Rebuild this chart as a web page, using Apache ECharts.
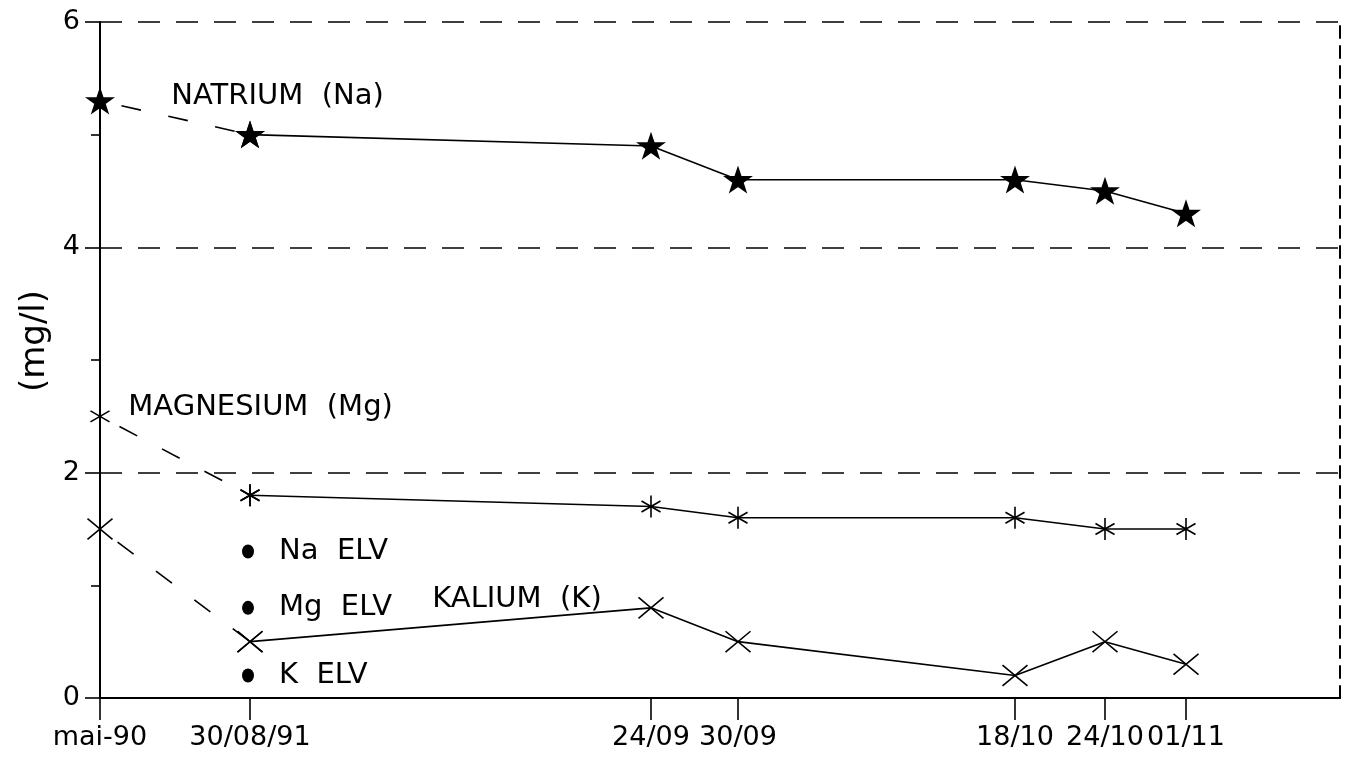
<!DOCTYPE html>
<html>
<head>
<meta charset="utf-8">
<script src="https://cdn.jsdelivr.net/npm/echarts@6/dist/echarts.min.js"></script>
<style>
html, body { margin: 0; padding: 0; background: #fff; }
#main { width: 1352px; height: 762px; }
</style>
</head>
<body>
<div id="main"></div>
<script>
//*************** data ***************
// sampling dates and their place on the (broken) horizontal scale of the original
var dates = ['mai-90', '30/08/91', '24/09', '30/09', '18/10', '24/10', '01/11'];
var datePos = [0, 150, 551, 638, 915, 1005, 1086];

var natrium = [5.3, 5.0, 4.9, 4.6, 4.6, 4.5, 4.3];
var magnesium = [2.5, 1.8, 1.7, 1.6, 1.6, 1.5, 1.5];
var kalium = [1.5, 0.5, 0.8, 0.5, 0.2, 0.5, 0.3];

var elvNames = ['Na  ELV', 'Mg  ELV', 'K  ELV'];
var elvValues = [1.3, 0.8, 0.2];

//*************** symbols ***************
var STAR = 'path://M12,0 L14.8,8.4 L24,8.4 L16.6,13.8 L19.4,22.4 L12,17.2 L4.6,22.4 L7.4,13.8 L0,8.4 L9.2,8.4 Z';
var ASTER = 'path://M10,0 L10,20 M1.34,5 L18.66,15 M1.34,15 L18.66,5';
var CROSS = 'path://M0,0 L24,20 M0,20 L24,0';

var FONT = 'DejaVu Sans';

var chart = echarts.init(document.getElementById('main'));

function points(values, from, to) {
    var out = [];
    for (var i = from; i < to; i++) {
        out.push([datePos[i], values[i]]);
    }
    return out;
}

function text_label(name, opt) {
    return Object.assign({
        show: true,
        formatter: name,
        color: '#000',
        fontFamily: FONT,
        fontSize: 29
    }, opt);
}

function element_series(values, symbol, size, name, labelOpt) {
    var dashed = points(values, 0, 2);
    if (labelOpt.first) {
        dashed[0] = { value: dashed[0], label: text_label(name, labelOpt.first) };
    }
    var solid = points(values, 1, values.length);
    if (labelOpt.solid) {
        var k = labelOpt.solidIndex;
        solid[k] = { value: solid[k], label: text_label(name, labelOpt.solid) };
    }
    var common = {
        type: 'line',
        symbol: symbol,
        symbolSize: size,
        symbolKeepAspect: true,
        itemStyle: { color: '#000', borderColor: '#000', borderWidth: 1.6 },
        z: 5
    };
    return [
        Object.assign({}, common, {
            data: dashed,
            lineStyle: { color: '#000', width: 1.6, type: [20, 28], dashOffset: -22 }
        }),
        Object.assign({}, common, {
            data: solid,
            lineStyle: { color: '#000', width: 1.6 }
        })
    ];
}

var series = [];
series = series.concat(element_series(natrium, STAR, 25, 'NATRIUM  (Na)', {
    first: { position: 'right', distance: 58, offset: [0, -4] }
}));
series = series.concat(element_series(magnesium, ASTER, 22, 'MAGNESIUM  (Mg)', {
    first: { position: 'right', distance: 18, offset: [0, -9] }
}));
series = series.concat(element_series(kalium, CROSS, 25, 'KALIUM  (K)', {
    solidIndex: 1,
    solid: { position: 'left', distance: 36, offset: [0, -8] }
}));

series.push({
    type: 'scatter',
    symbol: 'circle',
    symbolSize: [12, 14],
    itemStyle: { color: '#000', opacity: 1 },
    data: elvValues.map(function (v, i) {
        return { value: [datePos[1] - 2, v], name: elvNames[i] };
    }),
    label: {
        show: true,
        position: 'right',
        distance: 25,
        formatter: '{b}',
        color: '#000',
        fontFamily: FONT,
        fontSize: 29
    },
    z: 5
});

var options = {
    backgroundColor: '#fff',
    animation: false,
    grid: { left: 100, right: 12, top: 22, bottom: 64, outerBoundsMode: 'none', containLabel: false },
    xAxis: {
        type: 'value',
        min: 0,
        max: 1240,
        axisLine: { onZero: false, lineStyle: { color: '#000', width: 2 } },
        axisTick: {
            show: true,
            customValues: datePos,
            length: 22,
            lineStyle: { color: '#000', width: 1.6 }
        },
        axisLabel: {
            customValues: datePos,
            margin: 26,
            hideOverlap: false,
            showMinLabel: true,
            showMaxLabel: true,
            color: '#000',
            fontFamily: FONT,
            fontSize: 27,
            formatter: function (v) {
                var i = datePos.indexOf(v);
                return i >= 0 ? dates[i] : '';
            }
        },
        splitLine: { show: false }
    },
    yAxis: [{
        type: 'value',
        min: 0,
        max: 6,
        interval: 2,
        name: '(mg/l)',
        nameLocation: 'middle',
        nameGap: 44,
        nameTextStyle: { color: '#000', fontFamily: FONT, fontSize: 34, padding: [0, 0, 0, 38] },
        axisLine: { show: true, lineStyle: { color: '#000', width: 2 } },
        axisTick: { show: true, length: 15, lineStyle: { color: '#000', width: 1.6 } },
        minorTick: { show: true, splitNumber: 2, length: 9, lineStyle: { color: '#000', width: 1.6 } },
        axisLabel: { margin: 20, color: '#000', fontFamily: FONT, fontSize: 27 },
        splitLine: { show: true, lineStyle: { color: '#000', width: 1.6, type: [22, 16] } }
    }, {
        type: 'value',
        position: 'right',
        min: 0,
        max: 6,
        axisLine: { show: true, lineStyle: { color: '#000', width: 2, type: [12, 8] } },
        axisTick: { show: false },
        axisLabel: { show: false },
        splitLine: { show: false }
    }],
    series: series
};

chart.setOption(options);
</script>
</body>
</html>
